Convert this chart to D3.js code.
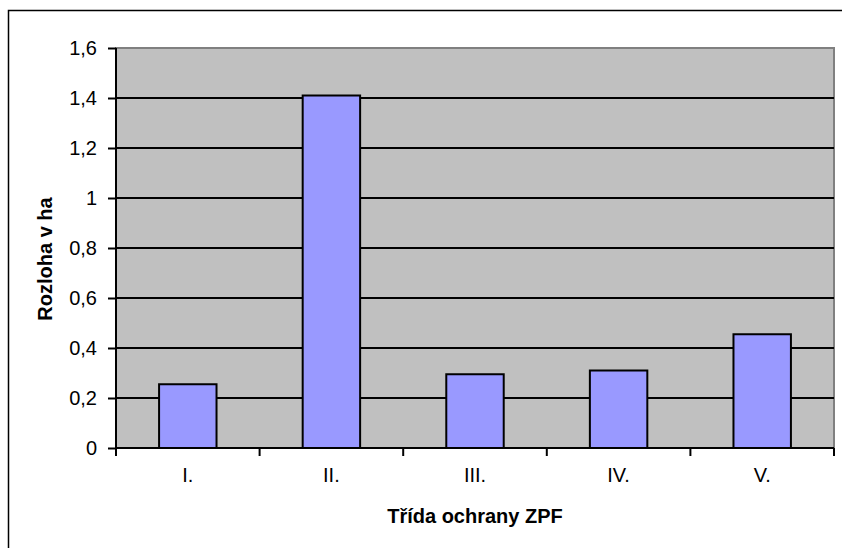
<!DOCTYPE html>
<html>
<head>
<meta charset="utf-8">
<script src="https://cdn.jsdelivr.net/npm/d3@7"></script>
<style>
  body { margin: 0; background: #fff; }
  svg text { font-family: "Liberation Sans", Arial, sans-serif; fill: #000; }
</style>
</head>
<body>
<div id="chart"></div>
<script>
// data
const categories = ["I.", "II.", "III.", "IV.", "V."];
const values = [0.255, 1.41, 0.295, 0.31, 0.455];
const yTicks = [0, 0.2, 0.4, 0.6, 0.8, 1, 1.2, 1.4, 1.6];

const width = 842, height = 548;
const margin = {top: 48, right: 8, bottom: 100, left: 116};
const plotW = width - margin.left - margin.right;
const plotH = height - margin.top - margin.bottom;

let svg = d3.select("#chart").append("svg")
    .attr("width", width)
    .attr("height", height);

// outer chart frame (runs off the picture at right/bottom)
svg.append("rect")
    .attr("x", 8.5).attr("y", 10.5)
    .attr("width", 900).attr("height", 600)
    .attr("fill", "#fff")
    .attr("stroke", "#000")
    .attr("stroke-width", 1.5);

let g = svg.append("g").attr("transform", `translate(${margin.left},${margin.top})`);

let x = d3.scaleBand()
    .domain(categories)
    .range([0, plotW])
    .paddingInner(0.6)
    .paddingOuter(0.3);

let y = d3.scaleLinear()
    .domain([0, 1.6])
    .range([plotH, 0]);

// plot area
g.append("rect")
    .attr("width", plotW).attr("height", plotH)
    .attr("fill", "#c0c0c0")
    .attr("stroke", "#808080")
    .attr("stroke-width", 2);

// gridlines
g.selectAll("line.grid")
    .data(yTicks.filter(d => d > 0 && d < 1.6))
    .enter().append("line")
    .attr("class", "grid")
    .attr("x1", 0).attr("x2", plotW)
    .attr("y1", d => y(d)).attr("y2", d => y(d))
    .attr("stroke", "#000")
    .attr("stroke-width", 2);

// bars
g.selectAll("rect.bar")
    .data(values)
    .enter().append("rect")
    .attr("class", "bar")
    .attr("x", (d, i) => x(categories[i]))
    .attr("y", d => y(d))
    .attr("width", x.bandwidth())
    .attr("height", d => plotH - y(d))
    .attr("fill", "#9999ff")
    .attr("stroke", "#000")
    .attr("stroke-width", 2);

// y axis
let yAxis = g.append("g")
    .call(d3.axisLeft(y).tickValues(yTicks).tickSize(8).tickPadding(11)
        .tickFormat(d => String(d).replace(".", ",")));
yAxis.select(".domain").attr("stroke", "#000").attr("stroke-width", 2).attr("d", `M0,0V${plotH}`);
yAxis.selectAll(".tick line").attr("stroke", "#000").attr("stroke-width", 2);
yAxis.selectAll("text").attr("font-size", 20).attr("font-family", "Liberation Sans, Arial, sans-serif");

// x axis: ticks at category boundaries
let boundaries = d3.range(categories.length + 1).map(i => i * x.step());
let xAxis = g.append("g").attr("transform", `translate(0,${plotH})`);
xAxis.append("line")
    .attr("x1", 0).attr("x2", plotW)
    .attr("stroke", "#000").attr("stroke-width", 2);
xAxis.selectAll("line.tick")
    .data(boundaries)
    .enter().append("line")
    .attr("x1", d => d).attr("x2", d => d)
    .attr("y1", 0).attr("y2", 8)
    .attr("stroke", "#000").attr("stroke-width", 2);
xAxis.selectAll("text")
    .data(categories)
    .enter().append("text")
    .attr("x", d => x(d) + x.bandwidth() / 2)
    .attr("y", 34)
    .attr("text-anchor", "middle")
    .attr("font-size", 20)
    .text(d => d);

// axis titles
svg.append("text")
    .attr("x", 475)
    .attr("y", 523)
    .attr("text-anchor", "middle")
    .attr("font-size", 20)
    .attr("font-weight", "bold")
    .text("Třída ochrany ZPF");

svg.append("text")
    .attr("transform", `translate(52,259) rotate(-90)`)
    .attr("text-anchor", "middle")
    .attr("font-size", 20)
    .attr("font-weight", "bold")
    .text("Rozloha v ha");
</script>
</body>
</html>
